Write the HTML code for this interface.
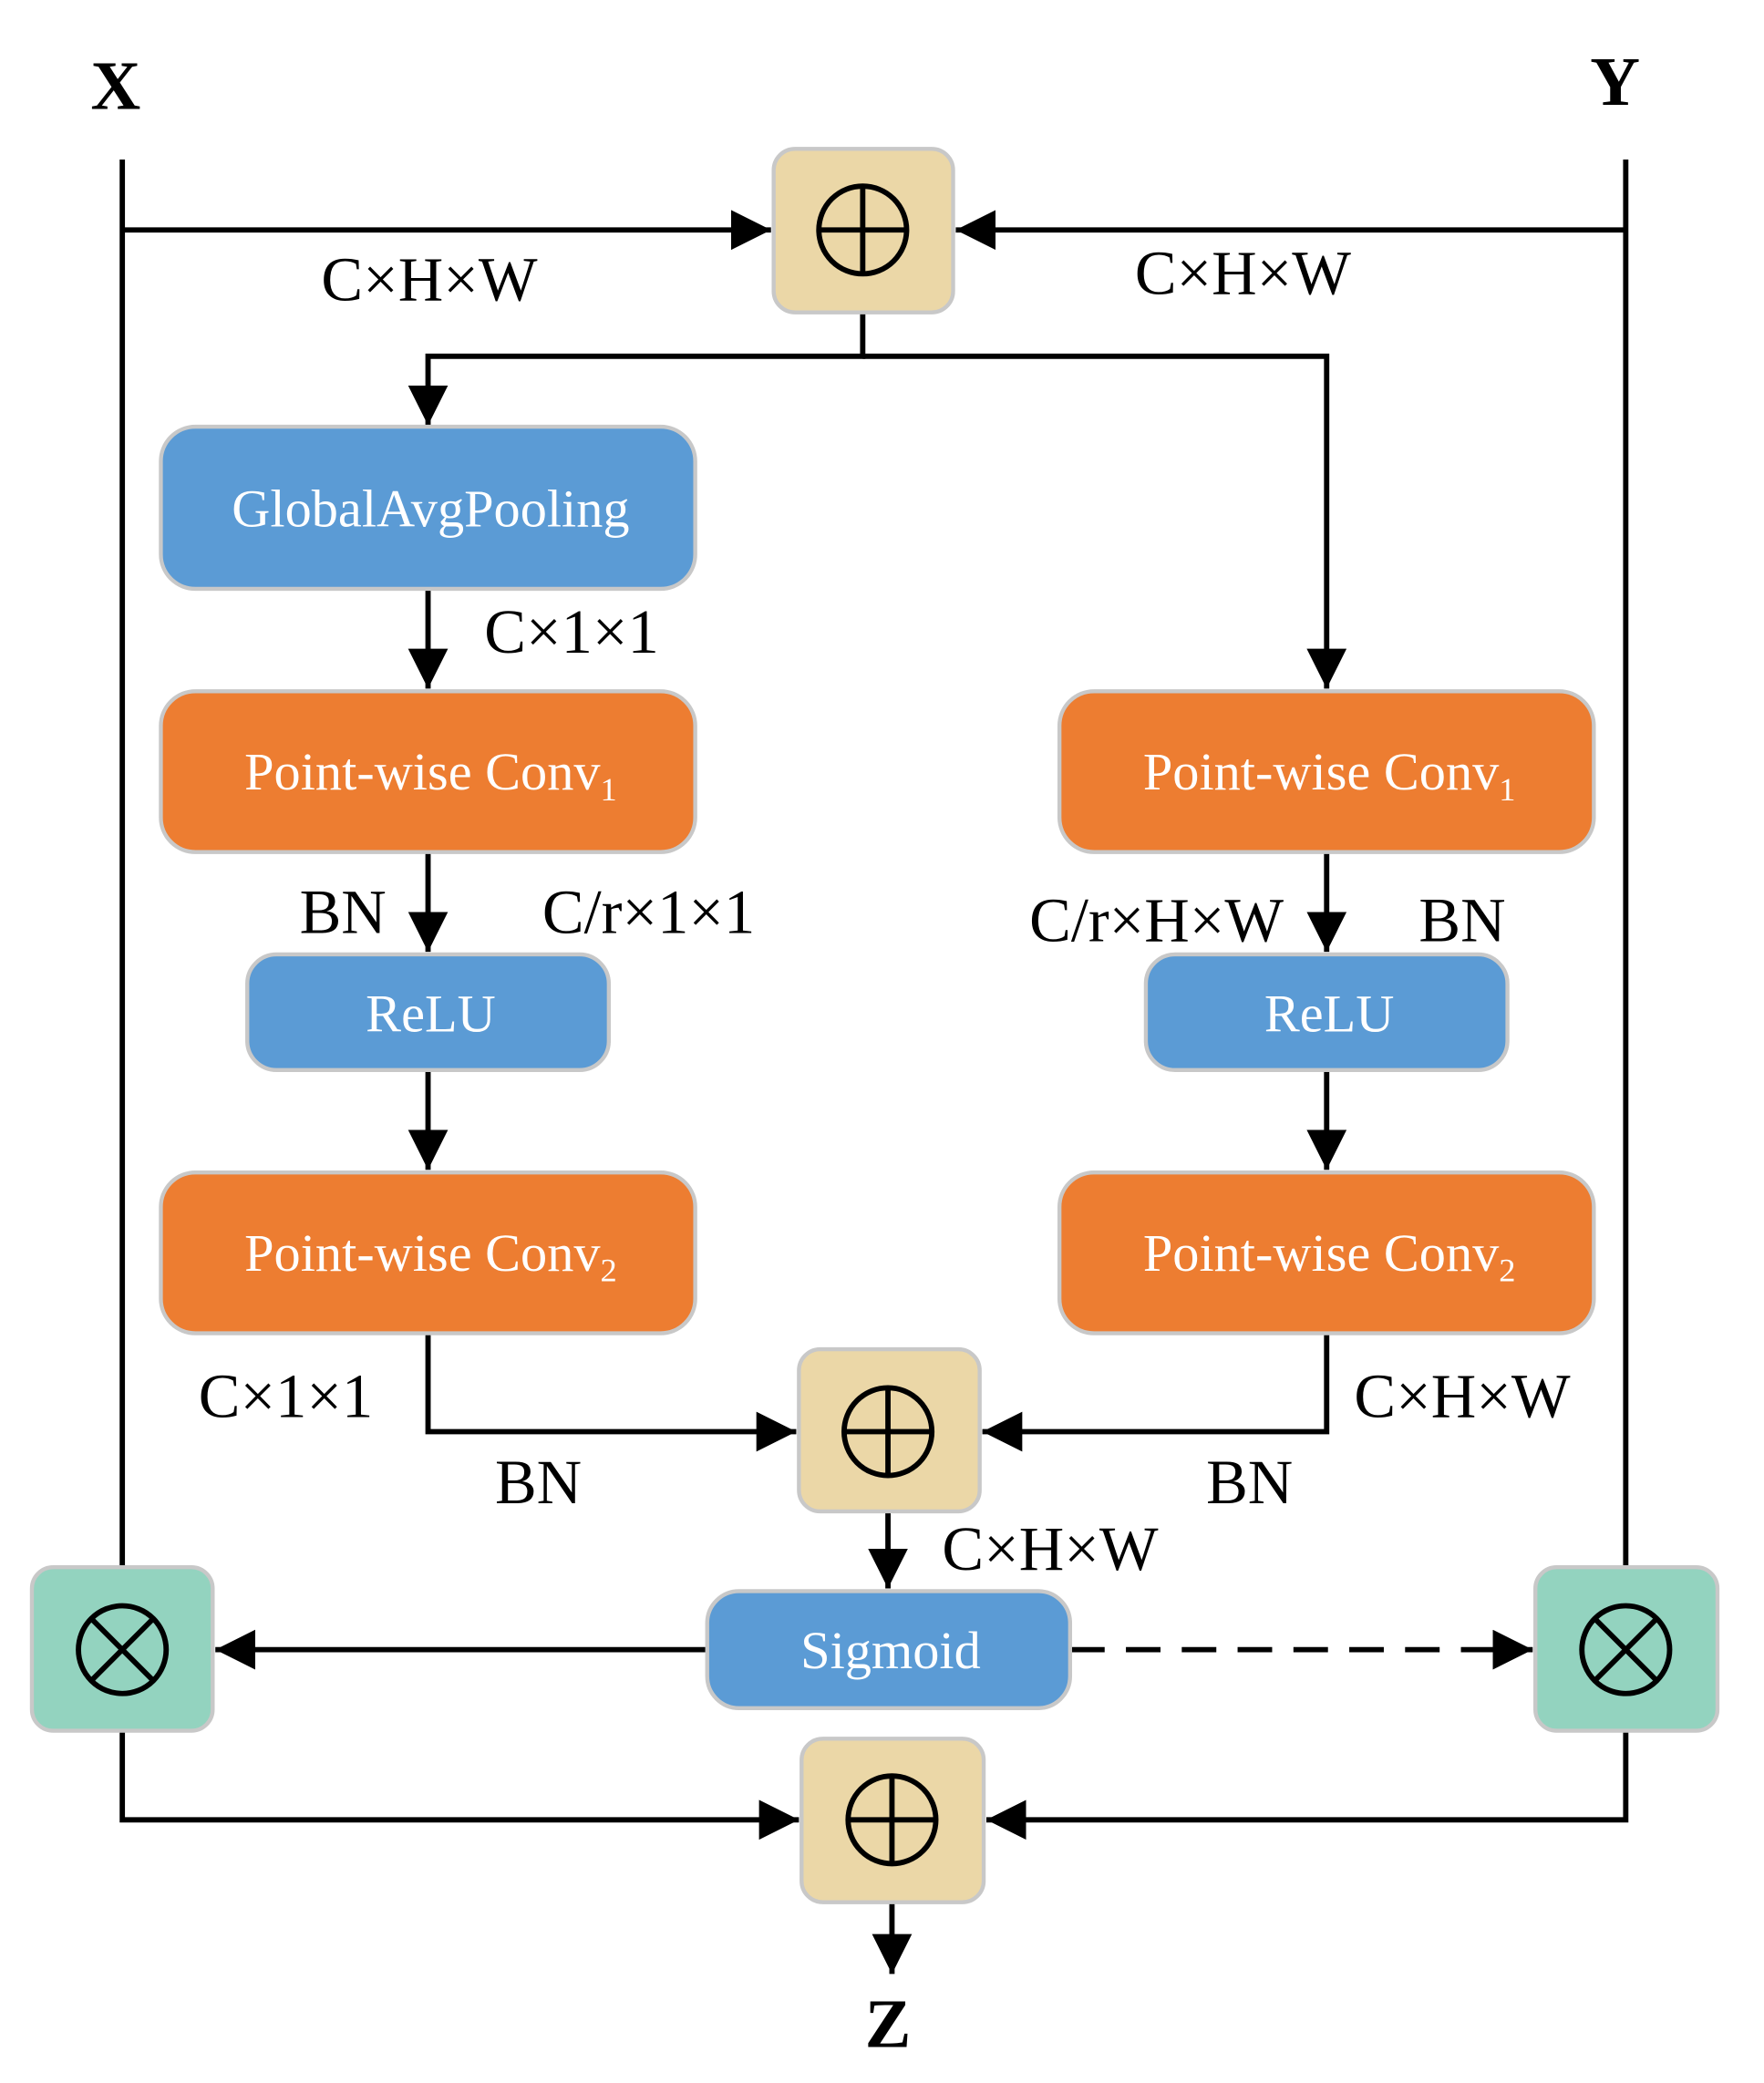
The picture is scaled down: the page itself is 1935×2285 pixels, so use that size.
<!DOCTYPE html>
<html><head><meta charset="utf-8"><style>html,body{margin:0;padding:0;background:#fff}svg{display:block}</style></head><body>
<svg width="1935" height="2285" viewBox="0 0 1327 1567" preserveAspectRatio="none" xmlns="http://www.w3.org/2000/svg">
<defs>
<marker id="a" markerUnits="userSpaceOnUse" markerWidth="32" markerHeight="32" refX="30" refY="15" orient="auto">
<path d="M0,0 L30,15 L0,30 Z" fill="#000"/></marker>
</defs>
<g font-family="Liberation Serif, serif" fill="#000">
<text x="87" y="82" font-size="52" font-weight="bold" text-anchor="middle">X</text>
<text x="1215" y="79" font-size="52" font-weight="bold" text-anchor="middle">Y</text>
<text x="668" y="1540" font-size="52" font-weight="bold" text-anchor="middle">Z</text>
</g>
<g stroke="#000" stroke-width="4" fill="none">
<path d="M92,120 V1180"/><path d="M1223,120 V1180"/>
<path d="M92,173 H580" marker-end="url(#a)"/>
<path d="M1223,173 H719" marker-end="url(#a)"/>
<path d="M649,235 V268 H322 V320" marker-end="url(#a)"/>
<path d="M649,268 H998 V518" marker-end="url(#a)"/>
<path d="M322,443 V518" marker-end="url(#a)"/>
<path d="M322,641 V716" marker-end="url(#a)"/>
<path d="M998,641 V716" marker-end="url(#a)"/>
<path d="M322,805 V880" marker-end="url(#a)"/>
<path d="M998,805 V880" marker-end="url(#a)"/>
<path d="M322,1003 V1077 H599" marker-end="url(#a)"/>
<path d="M998,1003 V1077 H739" marker-end="url(#a)"/>
<path d="M668,1137 V1195" marker-end="url(#a)"/>
<path d="M532,1241 H162" marker-end="url(#a)"/>
<path d="M805,1241 H1153" stroke-dasharray="26,16" marker-end="url(#a)"/>
<path d="M92,1302 V1369 H601" marker-end="url(#a)"/>
<path d="M1223,1302 V1369 H742" marker-end="url(#a)"/>
<path d="M671,1431 V1485" marker-end="url(#a)"/>
</g>
<g stroke="#c8c8c8" stroke-width="3">
<rect x="582" y="112" width="135" height="123" rx="16" fill="#EBD7A7"/>
<rect x="601" y="1015" width="136" height="122" rx="16" fill="#EBD7A7"/>
<rect x="603" y="1308" width="137" height="123" rx="16" fill="#EBD7A7"/>
<rect x="24" y="1179" width="136" height="123" rx="16" fill="#93D3BF"/>
<rect x="1155" y="1179" width="137" height="123" rx="16" fill="#93D3BF"/>
<rect x="121" y="321" width="402" height="122" rx="26" fill="#5B9BD5"/>
<rect x="121" y="520" width="402" height="121" rx="26" fill="#ED7D31"/>
<rect x="797" y="520" width="402" height="121" rx="26" fill="#ED7D31"/>
<rect x="186" y="718" width="272" height="87" rx="22" fill="#5B9BD5"/>
<rect x="862" y="718" width="272" height="87" rx="22" fill="#5B9BD5"/>
<rect x="121" y="882" width="402" height="121" rx="26" fill="#ED7D31"/>
<rect x="797" y="882" width="402" height="121" rx="26" fill="#ED7D31"/>
<rect x="532" y="1197" width="273" height="88" rx="24" fill="#5B9BD5"/>
</g>
<g stroke="#000" stroke-width="4" fill="none">
<circle cx="649" cy="173" r="33"/><path d="M616,173 H682 M649,140 V206"/>
<circle cx="668" cy="1077" r="33"/><path d="M635,1077 H701 M668,1044 V1110"/>
<circle cx="671" cy="1369" r="33"/><path d="M638,1369 H704 M671,1336 V1402"/>
<circle cx="92" cy="1241" r="33"/><path d="M69,1218 L115,1264 M115,1218 L69,1264"/>
<circle cx="1223" cy="1241" r="33"/><path d="M1200,1218 L1246,1264 M1246,1218 L1200,1264"/>
</g>
<g font-family="Liberation Serif, serif" font-size="40" fill="#fff" text-anchor="middle">
<text x="324" y="396">GlobalAvgPooling</text>
<text x="324" y="594">Point-wise Conv<tspan font-size="25" dy="8">1</tspan></text>
<text x="1000" y="594">Point-wise Conv<tspan font-size="25" dy="8">1</tspan></text>
<text x="324" y="956">Point-wise Conv<tspan font-size="25" dy="8">2</tspan></text>
<text x="1000" y="956">Point-wise Conv<tspan font-size="25" dy="8">2</tspan></text>
<text x="324" y="776">ReLU</text>
<text x="1000" y="776">ReLU</text>
<text x="670" y="1255">Sigmoid</text>
</g>
<g font-family="Liberation Serif, serif" font-size="47" fill="#000" text-anchor="middle">
<text x="323" y="226">C×H×W</text>
<text x="935" y="221">C×H×W</text>
<text x="430" y="491">C×1×1</text>
<text x="258" y="702">BN</text>
<text x="488" y="702">C/r×1×1</text>
<text x="870" y="708">C/r×H×W</text>
<text x="1100" y="708">BN</text>
<text x="215" y="1066">C×1×1</text>
<text x="405" y="1131">BN</text>
<text x="1100" y="1066">C×H×W</text>
<text x="940" y="1131">BN</text>
<text x="790" y="1181">C×H×W</text>
</g>
</svg>
</body></html>
